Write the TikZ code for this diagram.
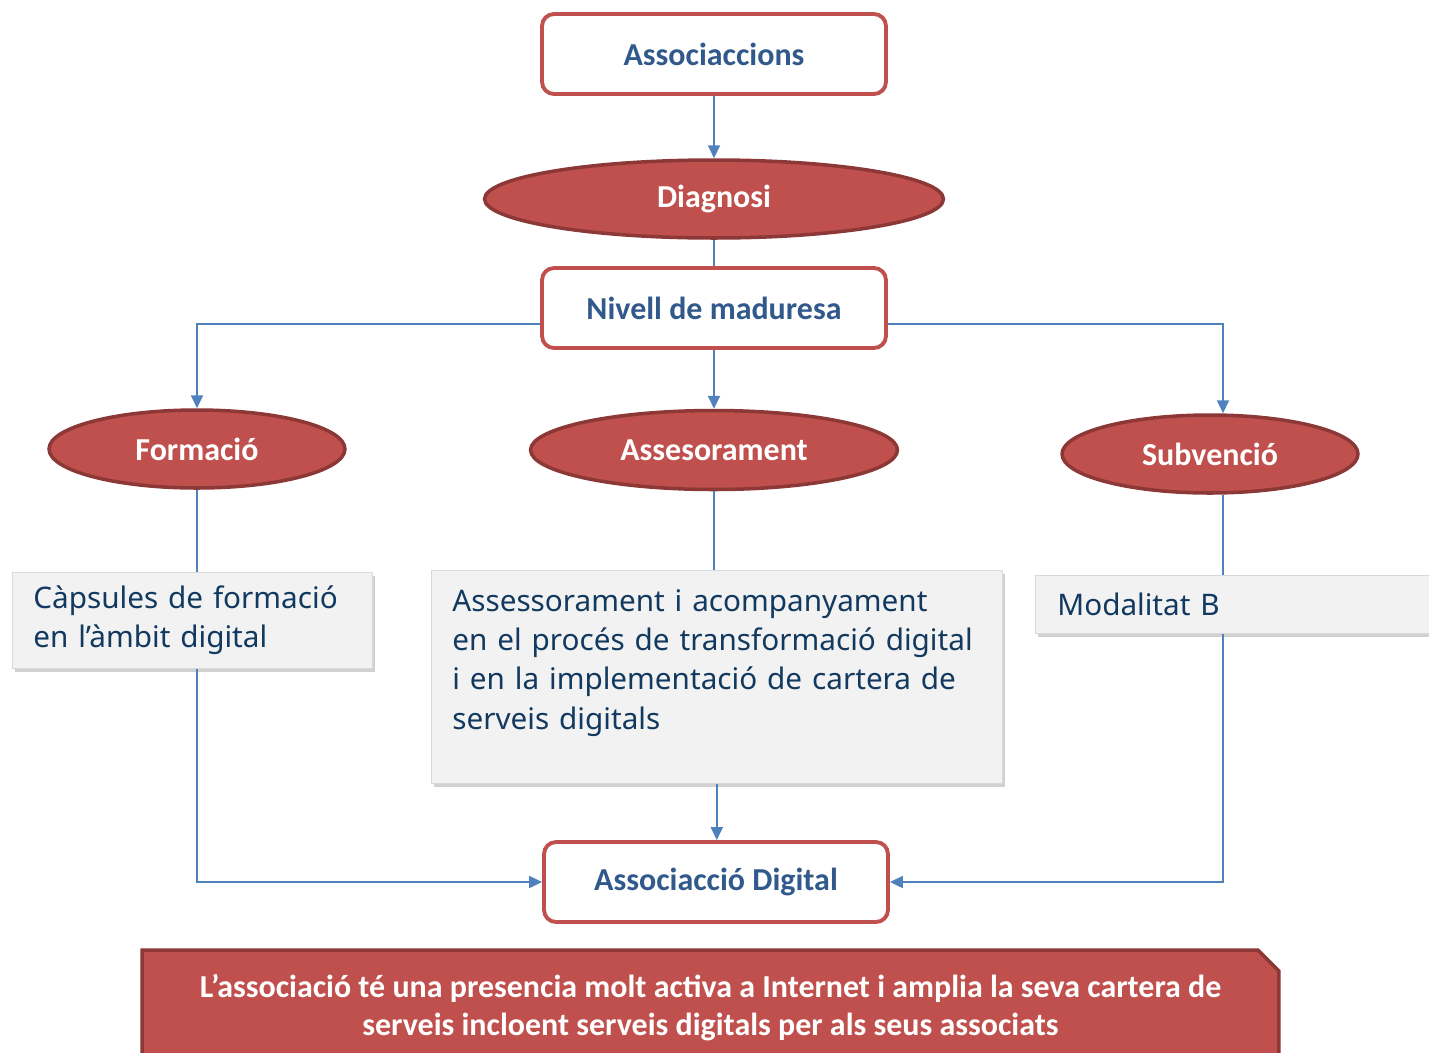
\documentclass[tikz,border=0pt]{standalone}
\usepackage{fontspec}
\setmainfont{Carlito}
\newfontfamily\notefont{Noto Sans}
\usetikzlibrary{arrows.meta,shapes.geometric,shapes.misc,shadows}

\definecolor{redfill}{HTML}{C0504D}
\definecolor{redline}{HTML}{8C3836}
\definecolor{boxtext}{HTML}{31598C}
\definecolor{notetext}{HTML}{12395F}
\definecolor{notefill}{HTML}{F2F2F2}
\definecolor{flowblue}{HTML}{4F81BD}

\tikzset{
  box/.style={draw=redfill, line width=2.2pt, rounded corners=0.24cm, fill=white,
    minimum width=6.88cm, minimum height=1.6cm, text=boxtext,
    font=\fontsize{18.2}{20}\selectfont\bfseries},
  oval/.style={ellipse, draw=redline, line width=2pt, fill=redfill, text=white,
    minimum height=1.56cm, font=\fontsize{18.2}{20}\selectfont\bfseries},
  note/.style={rectangle, fill=notefill, draw=black!15, line width=0.4pt,
    drop shadow={shadow xshift=0.05cm, shadow yshift=-0.07cm, opacity=0.18, fill=black},
    anchor=north west, align=left, inner xsep=0.42cm, text=notetext,
    font=\notefont\fontsize{16.9}{22.4}\selectfont},
  flow/.style={draw=flowblue, line width=1.1pt, -{Triangle[width=0.24cm,length=0.26cm]}},
  link/.style={draw=flowblue, line width=1.1pt},
}

\begin{document}
\begin{tikzpicture}[x=0.02cm, y=-0.02cm]
  \useasboundingbox (0,0) rectangle (1429,1052);
  \clip (0,0) rectangle (1429,1052);
  % boxes and ovals
  \node[box] (assoc) at (714,54) {Associaccions};
  \node[oval, minimum width=9.18cm] (diag) at (714,199) {Diagnosi};
  \node[box] (nivell) at (714,308) {Nivell de maduresa};
  \node[oval, minimum width=5.92cm] (form) at (197,449) {Formació};
  \node[oval, minimum width=7.34cm, minimum height=1.58cm] (asse) at (714,450) {Assesorament};
  \node[oval, minimum width=5.92cm] (subv) at (1210,454) {Subvenció};
  % notes
  \node[note, text width=6.36cm, minimum height=1.92cm] (caps) at (12,572)
    {Càpsules de formació\\en l’àmbit digital};
  \node[note, text width=10.58cm, inner ysep=0.38cm] (assbox) at (431,570)
    {\hyphenpenalty=10000 Assessorament i acompanyament\\en el procés de transformació digital\\i en la implementació de cartera de\\serveis digitals\par\vspace{0.56cm}};
  \node[note, text width=9cm, inner xsep=0.44cm, minimum height=1.16cm] (modal) at (1035,575)
    {Modalitat B};
  \node[box] (digital) at (716,882) {Associacció Digital};
  % banner
  \node[chamfered rectangle, chamfered rectangle corners=north east,
    chamfered rectangle xsep=0.21cm, chamfered rectangle ysep=0.21cm,
    draw=redline, line width=2pt, fill=redfill, text=white, align=center,
    minimum width=22.74cm, minimum height=2.32cm,
    font=\fontsize{18.2}{21.6}\selectfont\bfseries] (banner) at (710.5,1008)
    {L’associació té una presencia molt activa a Internet i amplia la seva cartera de\\serveis incloent serveis digitals per als seus associats};
  % arrows
  \draw[flow] (assoc) -- (diag);
  \draw[link] (diag) -- (nivell);
  \draw[flow] ([yshift=-0.32cm]nivell.west) -| (form);
  \draw[flow] (nivell) -- (asse);
  \draw[flow] ([yshift=-0.32cm]nivell.east) -| ([xshift=0.26cm]subv.north);
  \draw[link] (form) -- (form |- caps.north);
  \draw[flow] (form |- caps.south) |- (digital);
  \draw[link] (asse) -- (asse |- assbox.north);
  \draw[flow] (assbox.south) -- (assbox.south |- digital.north);
  \draw[link] ([xshift=0.26cm]subv.south) -- ([xshift=0.26cm]subv.south |- modal.north);
  \draw[flow] ([xshift=0.26cm]subv.south |- modal.south) |- (digital);
\end{tikzpicture}
\end{document}
